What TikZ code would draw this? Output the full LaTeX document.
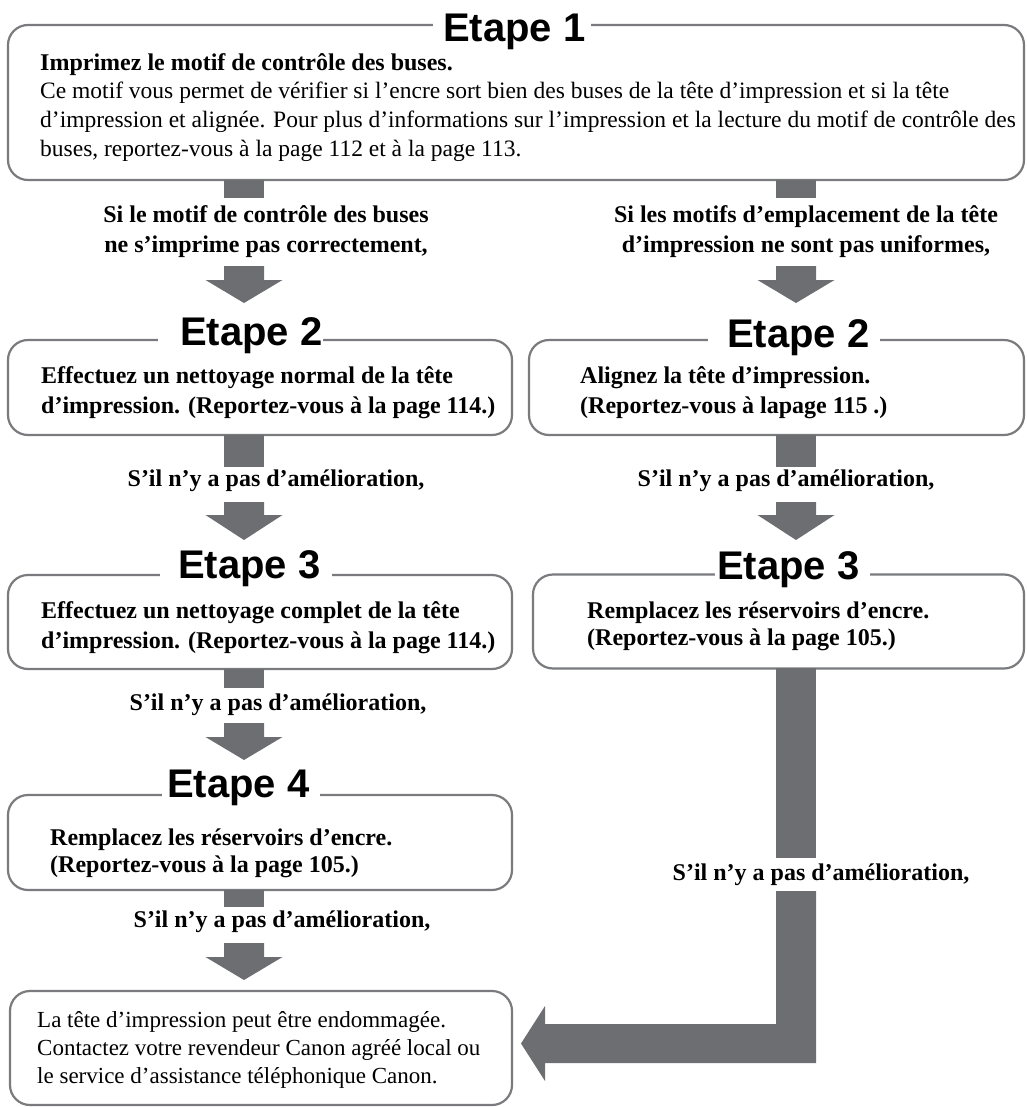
\documentclass[tikz,border=0pt]{standalone}
\usepackage{fontspec}
\setmainfont{Liberation Serif}
\newfontfamily\helv{Liberation Sans}
\definecolor{arrgray}{HTML}{6D6E71}
\definecolor{boxgray}{HTML}{7A7B7E}
\tikzset{
  stepbox/.style={draw=boxgray, line width=2.2pt, rounded corners=20pt, inner sep=0pt},
  ttl/.style={anchor=base west, inner sep=0pt, font=\helv\bfseries\fontsize{40}{40}\selectfont},
  bodyb/.style={anchor=base west, inner sep=0pt, font=\bfseries\fontsize{24}{30}\selectfont},
  bodyr/.style={anchor=base west, inner sep=0pt, font=\fontsize{23.5}{29}\selectfont},
  lbl/.style={anchor=base, inner sep=0pt, font=\bfseries\fontsize{24}{30}\selectfont},
  gapfill/.style={fill=white},
  arr/.style={fill=arrgray}
}
\newcommand\dnarrow[4]{\fill[arr] (#1-20,#2) -- (#1+20,#2) -- (#1+20,#3) -- (#1+38.5,#3) -- (#1,#4) -- (#1-38.5,#3) -- (#1-20,#3) -- cycle;}
\newcommand\stub[3]{\fill[arr] (#1-20,#2) rectangle (#1+20,#3);}
\begin{document}
\begin{tikzpicture}[x=1pt,y=-1pt]
\useasboundingbox (0,0) rectangle (1026,1107);
% boxes
\node[stepbox, minimum width=1016pt, minimum height=155pt] (b1) at (516,102.5) {};
\node[stepbox, minimum width=504pt, minimum height=95pt] (l2) at (260,387.5) {};
\node[stepbox, minimum width=504pt, minimum height=94pt] (l3) at (260,622) {};
\node[stepbox, minimum width=504pt, minimum height=95pt] (l4) at (260,842.5) {};
\node[stepbox, minimum width=502pt, minimum height=114pt] (fin) at (261,1048) {};
\node[stepbox, minimum width=495pt, minimum height=95pt] (r2) at (776.5,387.5) {};
\node[stepbox, minimum width=491pt, minimum height=94pt] (r3) at (778.5,621.5) {};
% gaps in top lines
\fill[gapfill] (433,21) rectangle (591,29);
\fill[gapfill] (158,336) rectangle (323,344);
\fill[gapfill] (708,336) rectangle (880,344);
\fill[gapfill] (160,571) rectangle (332,579);
\fill[gapfill] (715,570) rectangle (870,579);
\fill[gapfill] (162,791) rectangle (320,799);
% titles
\node[ttl] (t1) at (443,42) {Etape 1};
\node[ttl] (tl2) at (180,345) {Etape 2};
\node[ttl] (tr2) at (727,347) {Etape 2};
\node[ttl] (tl3) at (178,578) {Etape 3};
\node[ttl] (tr3) at (717,579) {Etape 3};
\node[ttl] (tl4) at (167,797) {Etape 4};
% box 1 text
\node[bodyb] (b1a) at (40,71) {Imprimez le motif de contrôle des buses.};
\node[bodyr] (b1b) at (40,99) {Ce motif vous permet de vérifier si l’encre sort bien des buses de la tête d’impression et si la tête};
\node[bodyr] (b1c) at (40,128) {d’impression et alignée. Pour plus d’informations sur l’impression et la lecture du motif de contrôle des};
\node[bodyr] (b1d) at (40,157) {buses, reportez-vous à la page 112 et à la page 113.};
% left column
\stub{244}{180}{198}
\node[lbl] (c1a) at (266,223) {Si le motif de contrôle des buses};
\node[lbl] (c1b) at (266,252) {ne s’imprime pas correctement,};
\dnarrow{244}{266}{280}{303}
\node[bodyb] (l2a) at (41,383) {Effectuez un nettoyage normal de la tête};
\node[bodyb] (l2b) at (41,413) {d’impression. (Reportez-vous à la page 114.)};
\stub{244}{435}{467}
\node[lbl] (c2) at (276,486) {S’il n’y a pas d’amélioration,};
\dnarrow{244}{502}{515}{540}
\node[bodyb] (l3a) at (41,618) {Effectuez un nettoyage complet de la tête};
\node[bodyb] (l3b) at (41,648) {d’impression. (Reportez-vous à la page 114.)};
\stub{244}{669}{688}
\node[lbl] (c3) at (278,710) {S’il n’y a pas d’amélioration,};
\dnarrow{244}{723}{737}{760}
\node[bodyb] (l4a) at (50,845) {Remplacez les réservoirs d’encre.};
\node[bodyb] (l4b) at (50,872) {(Reportez-vous à la page 105.)};
\stub{244}{890}{907}
\node[lbl] (c4) at (282,927) {S’il n’y a pas d’amélioration,};
\dnarrow{244}{943}{957}{980}
\node[anchor=base west, inner sep=0pt, font=\fontsize{23}{28}\selectfont] (f1) at (37,1027) {La tête d’impression peut être endommagée.};
\node[anchor=base west, inner sep=0pt, font=\fontsize{23}{28}\selectfont] (f2) at (37,1055) {Contactez votre revendeur Canon agréé local ou};
\node[anchor=base west, inner sep=0pt, font=\fontsize{23}{28}\selectfont] (f3) at (37,1083) {le service d’assistance téléphonique Canon.};
% right column
\stub{796}{180}{198}
\node[lbl] (d1a) at (806,223) {Si les motifs d’emplacement de la tête};
\node[lbl] (d1b) at (806,252) {d’impression ne sont pas uniformes,};
\dnarrow{796}{266}{280}{303}
\node[bodyb] (r2a) at (580,383) {Alignez la tête d’impression.};
\node[bodyb] (r2b) at (580,413) {(Reportez-vous à lapage 115 .)};
\stub{796}{435}{467}
\node[lbl] (d2) at (786,486) {S’il n’y a pas d’amélioration,};
\dnarrow{796}{502}{515}{540}
\node[bodyb] (r3a) at (587,618) {Remplacez les réservoirs d’encre.};
\node[bodyb] (r3b) at (587,645) {(Reportez-vous à la page 105.)};
\stub{796}{668}{858}
\node[lbl] (d3) at (821,880) {S’il n’y a pas d’amélioration,};
\fill[arr] (776,891) -- (816,891) -- (816,1063) -- (545,1063) -- (545,1081) -- (521,1043.5) -- (545,1006) -- (545,1024) -- (776,1024) -- cycle;
\end{tikzpicture}
\end{document}
